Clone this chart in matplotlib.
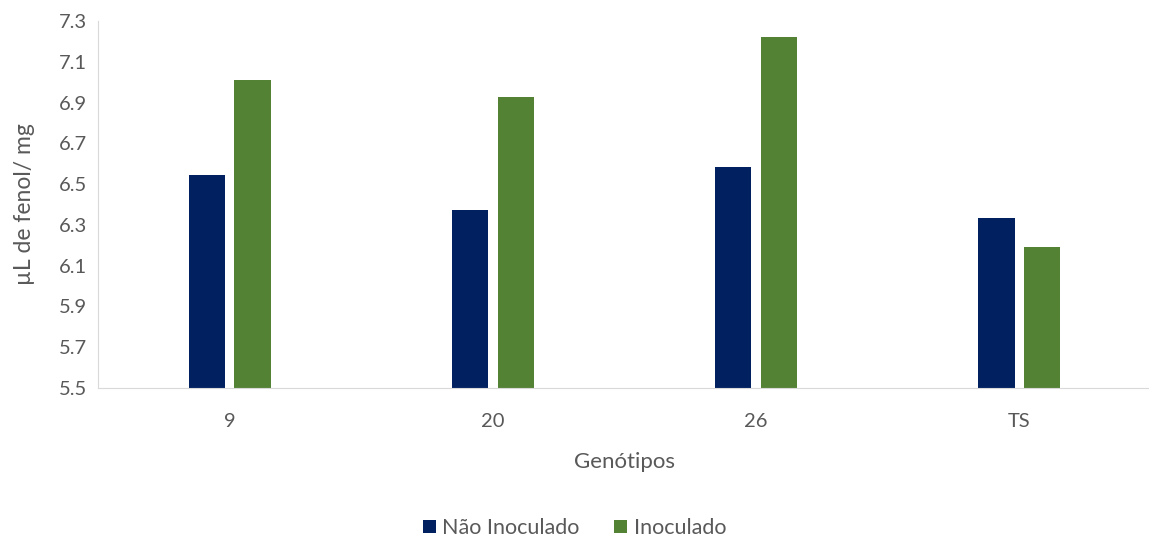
import numpy as np
import matplotlib.pyplot as plt

# dados
genotipos = ["9", "20", "26", "TS"]
nao_inoculado = [6.545, 6.375, 6.585, 6.335]
inoculado = [7.012, 6.925, 7.22, 6.193]

plt.rcParams["font.family"] = ["Lato", "DejaVu Sans"]
cinza = "#595959"

fig = plt.figure(figsize=(11.49, 5.39), dpi=100)
ax = fig.add_axes([98 / 1149, 151 / 539, 1053 / 1149, 367 / 539])

x = np.arange(len(genotipos))
w = 0.137
ax.bar(x - 0.087, nao_inoculado, width=w, color="#002060", label="Não Inoculado", zorder=2)
ax.bar(x + 0.087, inoculado, width=w, color="#548235", label="Inoculado", zorder=2)

ax.set_xlim(-0.5, 3.5)
ax.set_ylim(5.5, 7.3)
ax.set_yticks(np.arange(5.5, 7.31, 0.2))
ax.set_yticklabels([f"{v:.1f}" for v in np.arange(5.5, 7.31, 0.2)])
ax.set_xticks(x)
ax.set_xticklabels(genotipos)

for s in ["top", "right"]:
    ax.spines[s].set_visible(False)
ax.spines["left"].set_color("#d9d9d9")
ax.spines["bottom"].set_color("#d9d9d9")
ax.tick_params(axis="both", length=0, labelsize=14.5, labelcolor=cinza, pad=8)
ax.tick_params(axis="x", pad=18)

ax.set_xlabel("Genótipos", fontsize=16, color=cinza, labelpad=16)
ax.set_ylabel("µL de fenol/ mg", fontsize=16.5, color=cinza, labelpad=17)

leg = fig.legend(loc="center", bbox_to_anchor=(0.5, 11 / 539), ncol=2, frameon=False,
                 fontsize=15.5, handlelength=0.6, handleheight=0.6, handletextpad=0.3,
                 columnspacing=1.6)
for t in leg.get_texts():
    t.set_color(cinza)

fig.savefig("out.png", dpi=100)
